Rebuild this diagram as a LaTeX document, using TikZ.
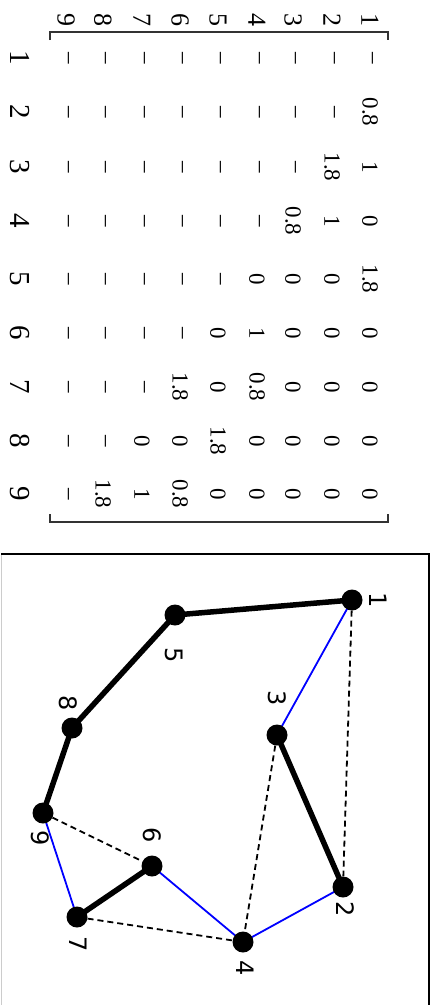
\documentclass[tikz,border=0pt]{standalone}
\usepackage{fontspec}
\setmainfont{Liberation Serif}
\newfontfamily\labfont{DejaVu Sans}
\usetikzlibrary{backgrounds}
\tikzset{
  entry/.style={inner sep=0pt, rotate=-90, font=\fontsize{23}{26}\selectfont},
  toplab/.style={inner sep=0pt, rotate=-90, font=\fontsize{26}{30}\selectfont},
  leftlab/.style={inner sep=0pt, rotate=-90, font=\fontsize{29}{33}\selectfont},
  dot/.style={circle, fill=black, inner sep=0pt, minimum size=21pt},
  glab/.style={inner sep=0pt, rotate=-90, font=\labfont\fontsize{24}{28}\selectfont},
  thickedge/.style={line width=5.5pt, black},
  blueedge/.style={line width=1.8pt, blue},
  dashedge/.style={line width=1.8pt, black, dash pattern=on 6pt off 4pt},
  bracket/.style={line width=1.2pt, black!80},
}
\begin{document}
\begin{tikzpicture}[x=1pt, y=-1pt]
\useasboundingbox (0,0) rectangle (436,1005);
% matrix labels
\foreach \r/\x in {1/370,2/332,3/293,4/257,5/218,6/180,7/142,8/103,9/66}
  \node[toplab] (t\r) at (\x,20) {\r};
\foreach \c/\y in {1/58,2/112,3/167,4/221,5/279,6/333,7/387,8/441,9/494}
  \node[leftlab] (l\c) at (20,\y) {\c};
% dashes (r >= c)
\foreach \r/\x in {1/370,2/332,3/293,4/257,5/218,6/180,7/142,8/103,9/66}{
  \foreach \c/\y in {1/58,2/112,3/167,4/221,5/279,6/333,7/387,8/441,9/494}{
    \ifnum\r<\c\else
      \node[entry] (m\r-\c) at (\x,\y) {--};
    \fi
  }
}
% values (r < c)
\foreach \r/\c/\v/\x/\y in {
  1/2/0.8/370/112, 1/3/1/370/167, 1/4/0/370/221, 1/5/1.8/370/279, 1/6/0/370/333, 1/7/0/370/387, 1/8/0/370/441, 1/9/0/370/494,
  2/3/1.8/332/167, 2/4/1/332/221, 2/5/0/332/279, 2/6/0/332/333, 2/7/0/332/387, 2/8/0/332/441, 2/9/0/332/494,
  3/4/0.8/293/221, 3/5/0/293/279, 3/6/0/293/333, 3/7/0/293/387, 3/8/0/293/441, 3/9/0/293/494,
  4/5/0/257/279, 4/6/1/257/333, 4/7/0.8/257/387, 4/8/0/257/441, 4/9/0/257/494,
  5/6/0/218/333, 5/7/0/218/387, 5/8/1.8/218/441, 5/9/0/218/494,
  6/7/1.8/180/387, 6/8/0/180/441, 6/9/0.8/180/494,
  7/8/0/142/441, 7/9/1/142/494,
  8/9/1.8/103/494}
  \node[entry] (m\r-\c) at (\x,\y) {\v};
% brackets
\draw[bracket] (50,40) -- (50,32) -- (388,32) -- (388,40);
\draw[bracket] (50,514) -- (50,522) -- (388,522) -- (388,514);
% frame
\draw[line width=0.6pt, black!20] (1.5,554) -- (1.5,1005);
\draw[line width=2pt, black] (1,554) -- (429,554) -- (429,1006);
% graph nodes
\node[dot] (n1) at (352,600) {};
\node[dot] (n2) at (343,887) {};
\node[dot] (n3) at (277,735) {};
\node[dot] (n4) at (243,942) {};
\node[dot] (n5) at (175,615) {};
\node[dot] (n6) at (152,866) {};
\node[dot] (n7) at (77,917) {};
\node[dot] (n8) at (72,728) {};
\node[dot] (n9) at (43,813) {};
\begin{pgfonlayer}{background}
\draw[thickedge] (n1.center) -- (n5.center) -- (n8.center) -- (n9.center);
\draw[thickedge] (n3.center) -- (n2.center);
\draw[thickedge] (n6.center) -- (n7.center);
\draw[blueedge] (n1.center) -- (n3.center);
\draw[blueedge] (n2.center) -- (n4.center);
\draw[blueedge] (n4.center) -- (n6.center);
\draw[blueedge] (n9.center) -- (n7.center);
\draw[dashedge] (n1) -- (n2);
\draw[dashedge] (n3) -- (n4);
\draw[dashedge] (n9) -- (n6);
\draw[dashedge] (n7) -- (n4);
\end{pgfonlayer}
% graph labels
\node[glab] (g1) at (378,600) {1};
\node[glab] (g2) at (345,909) {2};
\node[glab] (g3) at (277,698) {3};
\node[glab] (g4) at (245,968) {4};
\node[glab] (g5) at (174,655) {5};
\node[glab] (g6) at (152,835) {6};
\node[glab] (g7) at (78,944) {7};
\node[glab] (g8) at (68,703) {8};
\node[glab] (g9) at (40,838) {9};
\end{tikzpicture}
\end{document}
